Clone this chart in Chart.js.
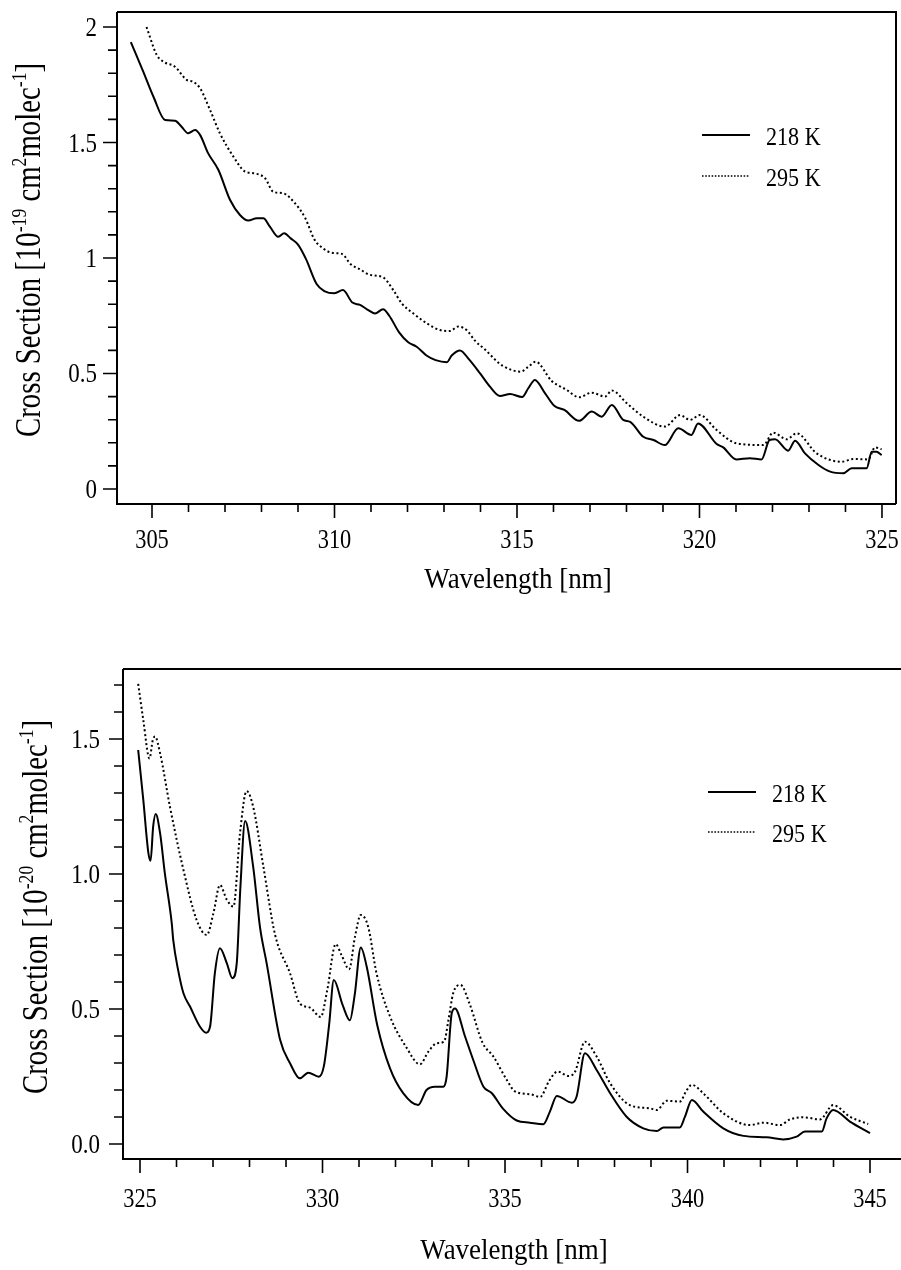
<!DOCTYPE html>
<html>
<head>
<meta charset="utf-8">
<script src="https://cdn.jsdelivr.net/npm/chart.js@4.4.1/dist/chart.umd.min.js"></script>
<style>
  html, body { margin: 0; padding: 0; background: #fff; }
  canvas { display: block; }
</style>
</head>
<body>
<canvas id="top" width="901" height="640"></canvas>
<canvas id="bottom" width="901" height="630"></canvas>
<script>
// upper panel, 305-325 nm (units 1e-19)
const topWl218 = [304.42, 304.76, 305.04, 305.36, 305.63, 305.81, 305.99, 306.18, 306.32, 306.54, 306.82, 307.14, 307.41, 307.64, 307.87, 308.05, 308.23, 308.46, 308.62, 308.80, 309.00, 309.22, 309.51, 309.72, 310.00, 310.23, 310.49, 310.70, 310.90, 311.11, 311.33, 311.50, 311.77, 312.02, 312.25, 312.52, 312.77, 313.08, 313.21, 313.44, 313.68, 314.02, 314.26, 314.53, 314.81, 315.14, 315.31, 315.49, 315.77, 316.02, 316.30, 316.70, 317.05, 317.32, 317.60, 317.91, 318.10, 318.46, 318.74, 319.05, 319.42, 319.78, 319.96, 320.47, 320.65, 321.01, 321.38, 321.70, 321.92, 322.07, 322.43, 322.62, 322.89, 323.26, 323.58, 323.94, 324.17, 324.58, 324.72, 324.85, 324.99];
const topCs218 = [1.935, 1.807, 1.698, 1.597, 1.594, 1.568, 1.540, 1.554, 1.532, 1.453, 1.381, 1.251, 1.186, 1.162, 1.172, 1.172, 1.136, 1.092, 1.107, 1.085, 1.058, 0.995, 0.887, 0.857, 0.847, 0.861, 0.807, 0.797, 0.777, 0.760, 0.778, 0.750, 0.678, 0.635, 0.616, 0.578, 0.558, 0.549, 0.578, 0.600, 0.562, 0.494, 0.443, 0.403, 0.411, 0.398, 0.436, 0.472, 0.414, 0.360, 0.342, 0.295, 0.335, 0.313, 0.364, 0.299, 0.291, 0.226, 0.212, 0.190, 0.263, 0.234, 0.284, 0.195, 0.180, 0.128, 0.133, 0.128, 0.212, 0.215, 0.166, 0.209, 0.154, 0.104, 0.075, 0.068, 0.090, 0.090, 0.161, 0.161, 0.147];
const topWl295 = [304.85, 305.13, 305.31, 305.63, 305.95, 306.13, 306.32, 306.59, 306.86, 307.23, 307.55, 307.78, 308.10, 308.32, 308.60, 308.90, 309.20, 309.45, 309.70, 309.95, 310.20, 310.45, 310.70, 310.95, 311.34, 311.61, 311.85, 312.16, 312.53, 312.89, 313.16, 313.39, 313.62, 313.85, 314.15, 314.40, 314.62, 315.10, 315.31, 315.51, 315.95, 316.36, 316.70, 317.05, 317.41, 317.60, 318.01, 318.46, 319.05, 319.47, 319.74, 320.01, 320.47, 321.01, 321.75, 322.02, 322.39, 322.66, 323.21, 323.90, 324.21, 324.62, 324.81, 324.99];
const topCs295 = [2.000, 1.879, 1.850, 1.828, 1.771, 1.763, 1.734, 1.641, 1.540, 1.439, 1.374, 1.367, 1.345, 1.287, 1.280, 1.240, 1.172, 1.080, 1.040, 1.022, 1.018, 0.972, 0.951, 0.928, 0.915, 0.861, 0.802, 0.760, 0.717, 0.688, 0.684, 0.703, 0.688, 0.642, 0.600, 0.560, 0.532, 0.508, 0.529, 0.551, 0.468, 0.429, 0.397, 0.417, 0.400, 0.426, 0.371, 0.313, 0.270, 0.320, 0.299, 0.320, 0.255, 0.198, 0.190, 0.244, 0.215, 0.241, 0.154, 0.118, 0.130, 0.128, 0.180, 0.172];

// lower panel, 325-345 nm (units 1e-20)
const botWl218 = [324.95, 325.09, 325.23, 325.29, 325.36, 325.43, 325.55, 325.68, 325.87, 325.91, 326.05, 326.19, 326.37, 326.64, 326.81, 326.92, 327.05, 327.19, 327.38, 327.53, 327.65, 327.75, 327.88, 328.10, 328.29, 328.47, 328.84, 329.11, 329.38, 329.61, 329.90, 330.04, 330.18, 330.31, 330.55, 330.75, 330.88, 331.05, 331.21, 331.50, 331.85, 332.21, 332.62, 332.85, 333.08, 333.31, 333.40, 333.54, 333.63, 333.90, 334.13, 334.41, 334.64, 334.95, 335.32, 335.68, 336.05, 336.23, 336.42, 336.83, 336.96, 337.19, 337.51, 337.88, 338.33, 338.79, 339.16, 339.34, 339.79, 339.93, 340.12, 340.43, 340.98, 341.53, 342.17, 342.62, 342.99, 343.22, 343.68, 343.81, 343.99, 344.45, 345.00];
const botCs218 = [1.459, 1.274, 1.077, 1.049, 1.175, 1.222, 1.151, 1.003, 0.817, 0.756, 0.640, 0.558, 0.509, 0.435, 0.412, 0.435, 0.632, 0.725, 0.669, 0.614, 0.669, 0.950, 1.196, 1.027, 0.800, 0.669, 0.385, 0.299, 0.243, 0.264, 0.249, 0.290, 0.440, 0.607, 0.515, 0.458, 0.550, 0.728, 0.657, 0.440, 0.280, 0.188, 0.144, 0.200, 0.212, 0.212, 0.249, 0.484, 0.502, 0.400, 0.311, 0.212, 0.188, 0.130, 0.087, 0.079, 0.073, 0.120, 0.178, 0.153, 0.175, 0.336, 0.274, 0.188, 0.101, 0.058, 0.048, 0.061, 0.061, 0.101, 0.163, 0.120, 0.058, 0.030, 0.025, 0.017, 0.027, 0.046, 0.046, 0.095, 0.126, 0.083, 0.040];
const botWl295 = [324.95, 325.09, 325.26, 325.35, 325.41, 325.55, 325.82, 326.19, 326.55, 326.83, 327.01, 327.19, 327.38, 327.56, 327.74, 327.92, 328.10, 328.38, 328.70, 329.11, 329.38, 329.66, 329.95, 330.13, 330.36, 330.52, 330.73, 330.89, 331.05, 331.25, 331.48, 331.85, 332.31, 332.67, 332.90, 333.13, 333.33, 333.45, 333.58, 333.78, 334.04, 334.38, 334.68, 335.05, 335.28, 335.70, 335.96, 336.21, 336.44, 336.74, 336.92, 337.19, 337.51, 337.88, 338.42, 338.97, 339.16, 339.43, 339.79, 339.98, 340.12, 340.43, 340.98, 341.71, 342.08, 342.53, 342.81, 343.17, 343.63, 343.99, 344.45, 344.95];
const botCs295 = [1.704, 1.570, 1.428, 1.496, 1.509, 1.447, 1.249, 1.015, 0.830, 0.774, 0.854, 0.959, 0.904, 0.879, 1.151, 1.307, 1.249, 1.027, 0.775, 0.632, 0.520, 0.505, 0.470, 0.570, 0.740, 0.700, 0.647, 0.768, 0.848, 0.805, 0.632, 0.472, 0.355, 0.295, 0.342, 0.373, 0.379, 0.459, 0.558, 0.589, 0.515, 0.376, 0.324, 0.237, 0.194, 0.184, 0.174, 0.234, 0.268, 0.252, 0.268, 0.379, 0.324, 0.225, 0.144, 0.132, 0.126, 0.160, 0.157, 0.200, 0.219, 0.188, 0.114, 0.070, 0.079, 0.070, 0.091, 0.099, 0.091, 0.144, 0.101, 0.074];

const seriesLabels = ['218 K', '295 K'];
const xTitle = 'Wavelength [nm]';

const SERIF = "'Liberation Serif', 'Times New Roman', serif";

function pts(xs, ys) {
  return xs.map((x, i) => ({ x: x, y: ys[i] }));
}

function lineSet(label, data, dotted) {
  return {
    label: label,
    data: data,
    borderColor: '#000',
    borderWidth: 2,
    borderDash: dotted ? [2, 2.6] : [],
    pointRadius: 0,
    fill: false,
    cubicInterpolationMode: 'monotone'
  };
}

// the scanned figure uses a narrow Times face, so squeeze the text horizontally
function narrowText(ctx, text, x, y, sx) {
  ctx.save();
  ctx.translate(x, y);
  ctx.scale(sx, 1);
  ctx.fillText(text, 0, 0);
  ctx.restore();
}

// axis ticks (major + minor), tick labels, frame, titles and legend
const decorPlugin = {
  id: 'decor',
  afterDraw(chart) {
    const o = chart.options.plugins.decor;
    const ctx = chart.ctx;
    const a = chart.chartArea;
    const xs = chart.scales.x;
    const ys = chart.scales.y;
    ctx.save();
    ctx.strokeStyle = '#000';
    ctx.fillStyle = '#000';

    // frame
    ctx.lineWidth = 2;
    ctx.beginPath();
    ctx.moveTo(a.left, a.top);
    ctx.lineTo(a.left, a.bottom);
    ctx.lineTo(o.frameRight ? a.right : chart.width, a.bottom);
    ctx.moveTo(a.left, a.top);
    ctx.lineTo(o.frameRight ? a.right : chart.width, a.top);
    if (o.frameRight) ctx.lineTo(a.right, a.bottom);
    ctx.stroke();

    // x ticks every 1 nm
    ctx.lineWidth = 1.6;
    ctx.beginPath();
    for (let v = Math.ceil(xs.min); v <= xs.max; v++) {
      const px = xs.getPixelForValue(v);
      if (px < a.left + 1) continue;
      const len = v % 5 === 0 ? 14 : 8;
      ctx.moveTo(px, a.bottom);
      ctx.lineTo(px, a.bottom + len);
    }
    // y ticks every 0.1
    for (let k = Math.ceil(ys.min * 10); k <= ys.max * 10; k++) {
      const py = ys.getPixelForValue(k / 10);
      const len = k % 5 === 0 ? 14 : 9;
      ctx.moveTo(a.left, py);
      ctx.lineTo(a.left - len, py);
    }
    ctx.stroke();

    // tick labels from the scales' own ticks
    ctx.font = '28px ' + SERIF;
    ctx.textBaseline = 'alphabetic';
    ctx.textAlign = 'center';
    xs.ticks.forEach(t => {
      narrowText(ctx, t.label, xs.getPixelForValue(t.value), a.bottom + o.xLabelDy, 0.8);
    });
    ctx.textAlign = 'right';
    ys.ticks.forEach(t => {
      narrowText(ctx, t.label, a.left - o.yLabelDx, ys.getPixelForValue(t.value) + 9, 0.82);
    });

    // x title
    ctx.font = '29px ' + SERIF;
    ctx.textAlign = 'center';
    narrowText(ctx, xTitle, o.xTitleX, o.xTitleY, 0.93);

    // y title with superscripts, rotated
    ctx.save();
    ctx.translate(o.yTitleX, o.yTitleY);
    ctx.rotate(-Math.PI / 2);
    ctx.scale(0.8, 1);
    const big = 36, small = 22;
    let total = 0;
    o.yTitle.forEach(s => {
      ctx.font = (s.sup ? small : big) + 'px ' + SERIF;
      total += ctx.measureText(s.t).width;
    });
    let cx = -total / 2;
    ctx.textAlign = 'left';
    o.yTitle.forEach(s => {
      ctx.font = (s.sup ? small : big) + 'px ' + SERIF;
      ctx.fillText(s.t, cx, s.sup ? -big * 0.4 : 0);
      cx += ctx.measureText(s.t).width;
    });
    ctx.restore();

    // legend
    ctx.font = '26px ' + SERIF;
    ctx.textAlign = 'left';
    chart.data.datasets.forEach((ds, i) => {
      const y = o.legendY + i * o.legendGap;
      ctx.lineWidth = ds.borderDash.length ? 1.6 : 2;
      ctx.setLineDash(ds.borderDash.length ? [1.6, 1.6] : []);
      ctx.beginPath();
      ctx.moveTo(o.legendX, y);
      ctx.lineTo(o.legendX + 48, y);
      ctx.stroke();
      ctx.setLineDash([]);
      narrowText(ctx, ds.label, o.legendX + 64, y + 10, 0.85);
    });
    ctx.restore();
  }
};

function makeChart(id, cfg) {
  const canvas = document.getElementById(id);
  const W = canvas.width, H = canvas.height;
  return new Chart(canvas, {
    type: 'line',
    data: { datasets: cfg.datasets },
    plugins: [decorPlugin],
    options: {
      responsive: false,
      animation: false,
      layout: { padding: { left: 0, top: cfg.area.top, right: W - cfg.area.right, bottom: 0 } },
      plugins: {
        legend: { display: false },
        tooltip: { enabled: false },
        decor: cfg.decor
      },
      scales: {
        x: {
          type: 'linear',
          min: cfg.xMin,
          max: cfg.xMax,
          grid: { display: false },
          border: { display: false },
          ticks: { display: false, stepSize: 5, includeBounds: false, autoSkip: false },
          afterFit(s) { s.height = H - cfg.area.bottom; s.paddingLeft = 0; s.paddingRight = 0; }
        },
        y: {
          min: cfg.yMin,
          max: cfg.yMax,
          grid: { display: false },
          border: { display: false },
          ticks: { display: false, stepSize: 0.5, includeBounds: false, callback: cfg.yFmt },
          afterFit(s) { s.width = cfg.area.left; s.paddingTop = 0; s.paddingBottom = 0; }
        }
      }
    }
  });
}

makeChart('top', {
  datasets: [
    lineSet(seriesLabels[0], pts(topWl218, topCs218), false),
    lineSet(seriesLabels[1], pts(topWl295, topCs295), true)
  ],
  area: { left: 117, top: 12, right: 896, bottom: 504 },
  xMin: 304.041, xMax: 325.384,
  yMin: -0.065, yMax: 2.065,
  yFmt: v => String(+v.toFixed(2)),
  decor: {
    frameRight: true,
    xLabelDy: 44, yLabelDx: 20,
    xTitleX: 518, xTitleY: 588,
    yTitleX: 40, yTitleY: 250,
    yTitle: [
      { t: 'Cross Section [10' }, { t: '-19', sup: true }, { t: ' cm' }, { t: '2', sup: true },
      { t: 'molec' }, { t: '-1', sup: true }, { t: ']' }
    ],
    legendX: 702, legendY: 135, legendGap: 41
  }
});

makeChart('bottom', {
  datasets: [
    lineSet(seriesLabels[0], pts(botWl218, botCs218), false),
    lineSet(seriesLabels[1], pts(botWl295, botCs295), true)
  ],
  area: { left: 123, top: 29, right: 901, bottom: 519 },
  xMin: 324.534, xMax: 345.849,
  yMin: -0.0556, yMax: 1.759,
  yFmt: v => v.toFixed(1),
  decor: {
    frameRight: false,
    xLabelDy: 48, yLabelDx: 23,
    xTitleX: 514, xTitleY: 619,
    yTitleX: 47, yTitleY: 267,
    yTitle: [
      { t: 'Cross Section [10' }, { t: '-20', sup: true }, { t: ' cm' }, { t: '2', sup: true },
      { t: 'molec' }, { t: '-1', sup: true }, { t: ']' }
    ],
    legendX: 708, legendY: 152, legendGap: 40
  }
});
</script>
</body>
</html>
